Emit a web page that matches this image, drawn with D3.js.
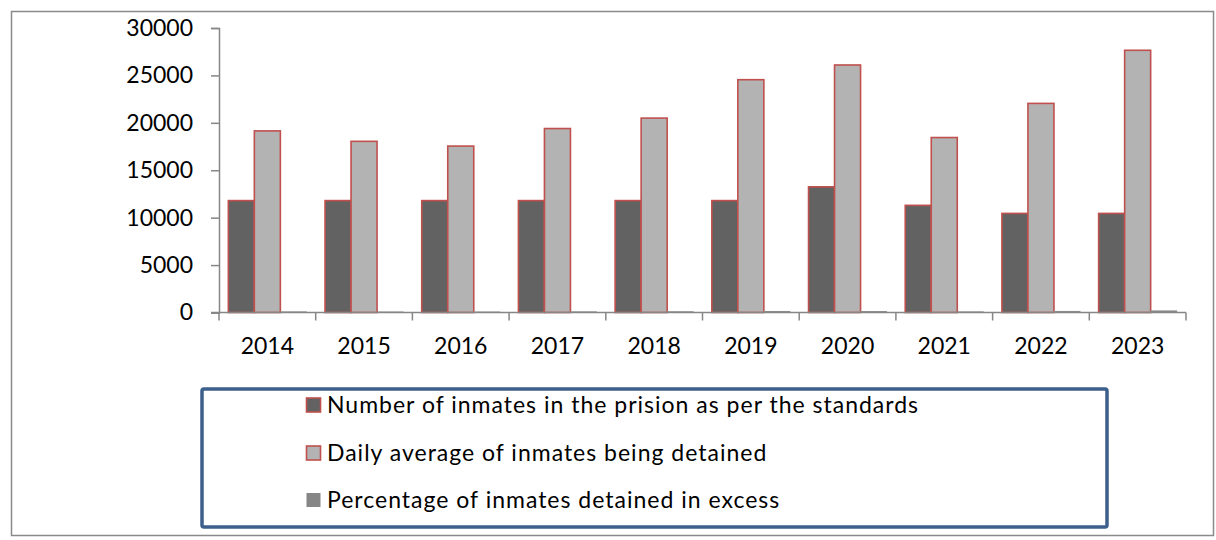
<!DOCTYPE html>
<html>
<head>
<meta charset="utf-8">
<script src="https://cdn.jsdelivr.net/npm/d3@7"></script>
<style>
  html, body { margin: 0; padding: 0; background: #fff; }
  svg { display: block; }
  text { font-family: Lato, "Open Sans", sans-serif; fill: #000; }
</style>
</head>
<body>
<svg id="chart" width="1216" height="540"></svg>
<script>
// Prison occupancy, 2014–2023
const years = ["2014", "2015", "2016", "2017", "2018", "2019", "2020", "2021", "2022", "2023"];
const standardCapacity = [11800, 11800, 11800, 11800, 11800, 11800, 13250, 11300, 10450, 10450];
const dailyAverage = [19150, 18050, 17550, 19400, 20500, 24550, 26100, 18450, 22050, 27650];
const excessPercent = [62, 53, 49, 64, 74, 108, 97, 63, 111, 165];
const seriesNames = [
  "Number of inmates in the prision as per the standards",
  "Daily average of inmates being detained",
  "Percentage of inmates detained in excess"
];
const yTicks = [0, 5000, 10000, 15000, 20000, 25000, 30000];

const seriesValues = [standardCapacity, dailyAverage, excessPercent];
const fills = ["#626262", "#b3b3b3", "#868686"];
const strokes = ["#c0504d", "#c0504d", "#8c8c8c"];
const strokeWidths = [1.6, 1.6, 1];

const svg = d3.select("#chart");

// outer frame
svg.append("rect")
  .attr("x", 11.5).attr("y", 11.5)
  .attr("width", 1202).attr("height", 524)
  .attr("fill", "#fff").attr("stroke", "#8a8a8a").attr("stroke-width", 1.5);

const plot = { left: 219, right: 1186, top: 28, bottom: 312.5 };

const y = d3.scaleLinear().domain([0, 30000]).range([plot.bottom, plot.top]);
const xCat = d3.scaleBand().domain(years).range([plot.left, plot.right]).padding(0);
const xGroup = d3.scaleBand().domain(years).range([plot.left, plot.right])
  .paddingInner(0.193).paddingOuter(0.0965);
const xSeries = d3.scaleBand().domain(d3.range(3)).range([0, xGroup.bandwidth()]).padding(0);

// bars
const groups = svg.append("g").selectAll("g")
  .data(years).join("g")
  .attr("transform", d => `translate(${xGroup(d)},0)`);

groups.selectAll("rect")
  .data((d, i) => seriesValues.map((vals, s) => ({ s, v: vals[i] })))
  .join("rect")
  .attr("x", d => xSeries(d.s))
  .attr("width", xSeries.bandwidth())
  .attr("y", d => y(d.v))
  .attr("height", d => Math.max(0, y(0) - y(d.v)))
  .attr("fill", d => fills[d.s])
  .attr("stroke", d => strokes[d.s])
  .attr("stroke-width", d => strokeWidths[d.s]);

// y axis
const yAxis = svg.append("g")
  .attr("transform", `translate(${plot.left},0)`)
  .call(d3.axisLeft(y).tickValues(yTicks).tickSize(8).tickPadding(18).tickFormat(d3.format("d")));
yAxis.select(".domain").attr("stroke", "#868686").attr("stroke-width", 1.5);
yAxis.selectAll(".tick line").attr("stroke", "#868686").attr("stroke-width", 1.5);
yAxis.selectAll("text").style("font-size", "23px").attr("fill", "#000");

// x axis: labels centred on categories, tick marks at category boundaries
const xAxis = svg.append("g")
  .attr("transform", `translate(0,${plot.bottom})`)
  .call(d3.axisBottom(xCat).tickSize(0).tickPadding(25).tickSizeOuter(0));
xAxis.select(".domain").attr("stroke", "#868686").attr("stroke-width", 1.5)
  .attr("d", `M${plot.left - 8},0H${plot.right}`);
xAxis.selectAll("text").style("font-size", "23px").attr("fill", "#000");
const boundaries = years.map(d => xCat(d)).concat([xCat(years[years.length - 1]) + xCat.bandwidth()]);
xAxis.selectAll(".boundary")
  .data(boundaries).join("line")
  .attr("class", "boundary")
  .attr("x1", d => d).attr("x2", d => d)
  .attr("y1", 0).attr("y2", 8)
  .attr("stroke", "#868686").attr("stroke-width", 1.5);

// legend
const legend = svg.append("g");
legend.append("rect")
  .attr("x", 202).attr("y", 389)
  .attr("width", 905).attr("height", 138)
  .attr("rx", 2)
  .attr("fill", "#fff").attr("stroke", "#3d5f8c").attr("stroke-width", 3.5);

const rowY = [405, 453, 500];
const items = legend.selectAll("g.item")
  .data(seriesNames).join("g")
  .attr("class", "item")
  .attr("transform", (d, i) => `translate(306,${rowY[i]})`);
items.append("rect")
  .attr("x", 0.5).attr("y", -7)
  .attr("width", 14).attr("height", 14)
  .attr("fill", (d, i) => fills[i])
  .attr("stroke", (d, i) => i < 2 ? strokes[i] : "none")
  .attr("stroke-width", 1.6);
items.append("text")
  .attr("x", 21).attr("y", 0)
  .attr("dy", "0.35em")
  .style("font-size", "23px")
  .style("letter-spacing", "1px")
  .text(d => d);
</script>
</body>
</html>
